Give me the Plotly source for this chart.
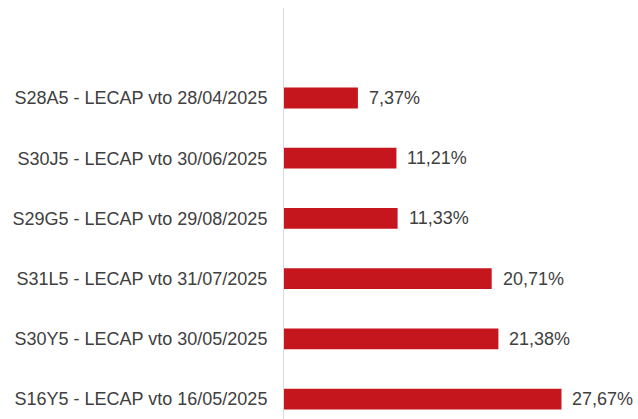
import plotly.graph_objects as go

# LECAP instruments and their rates (%)
instrumentos = [
    "S28A5 - LECAP vto 28/04/2025",
    "S30J5 - LECAP vto 30/06/2025",
    "S29G5 - LECAP vto 29/08/2025",
    "S31L5 - LECAP vto 31/07/2025",
    "S30Y5 - LECAP vto 30/05/2025",
    "S16Y5 - LECAP vto 16/05/2025",
]
tasas = [7.37, 11.21, 11.33, 20.71, 21.38, 27.67]

etiquetas = [f"{v:.2f}".replace(".", ",") + "%" for v in tasas]

ROJO = "#C5161D"
GRIS_TEXTO = "#404040"
FUENTE = "Liberation Sans, Arial, sans-serif"

fig = go.Figure(
    go.Bar(
        x=tasas,
        y=instrumentos,
        orientation="h",
        marker=dict(color=ROJO, line=dict(width=0)),
        width=0.345,
        hoverinfo="skip",
    )
)

# value labels to the right of each bar
for v, lab, name in zip(tasas, etiquetas, instrumentos):
    fig.add_annotation(
        x=v, y=name, text=lab, xanchor="left", yanchor="middle",
        xshift=9, showarrow=False,
        font=dict(family=FUENTE, size=18, color=GRIS_TEXTO),
    )

fig.update_layout(
    width=638,
    height=419,
    margin=dict(l=284, r=0, t=8, b=0),
    paper_bgcolor="white",
    plot_bgcolor="white",
    showlegend=False,
    xaxis=dict(
        range=[0, 35.3],
        visible=False,
        showgrid=False,
        zeroline=False,
    ),
    yaxis=dict(
        type="category",
        range=[5.332, -1.495],
        showgrid=False,
        zeroline=False,
        showline=True,
        linecolor="#D9D9D9",
        linewidth=1,
        ticks="",
        ticklabelstandoff=12,
        tickfont=dict(family=FUENTE, size=18, color=GRIS_TEXTO),
    ),
)

fig.write_html("out.html")
